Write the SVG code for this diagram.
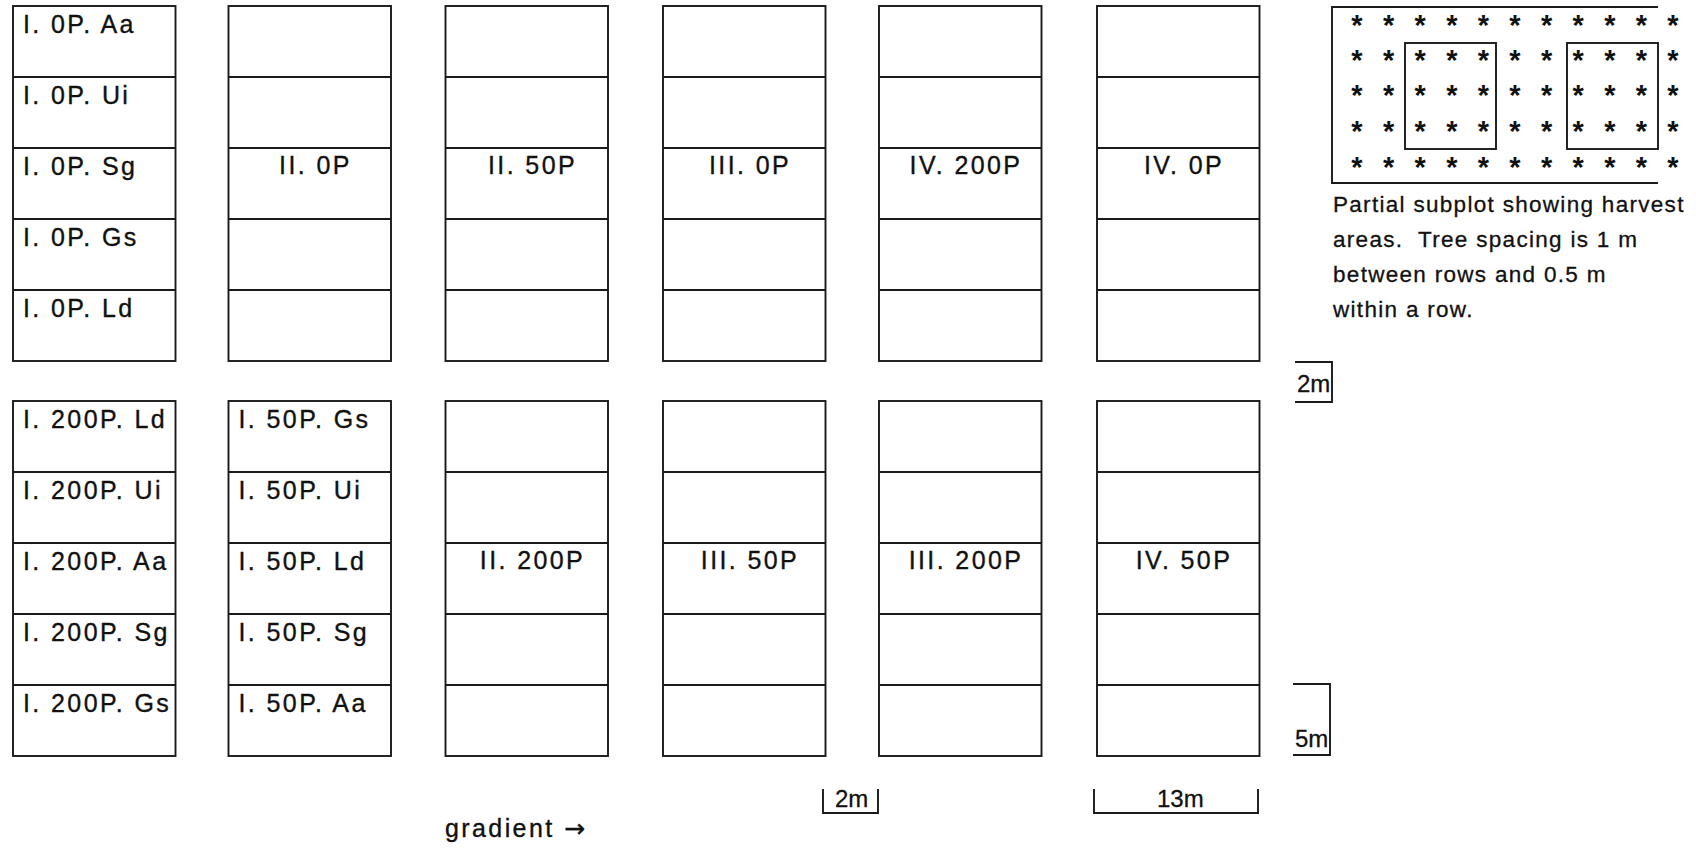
<svg xmlns="http://www.w3.org/2000/svg" width="1696" height="848" viewBox="0 0 1696 848">
<style>
  .ln{fill:none;stroke:#1a1a1a;stroke-width:1.9}
  .lab{font-family:"Liberation Sans",Arial,sans-serif;font-size:25px;letter-spacing:2.4px;fill:#111;stroke:#111;stroke-width:0.35}
  .mid{font-family:"Liberation Sans",Arial,sans-serif;font-size:25px;letter-spacing:2.4px;fill:#111;stroke:#111;stroke-width:0.35;text-anchor:middle}
  .cap{font-family:"Liberation Sans",Arial,sans-serif;font-size:22.5px;letter-spacing:1.3px;fill:#111;stroke:#111;stroke-width:0.3}
  .sc{font-family:"Liberation Sans",Arial,sans-serif;font-size:24px;fill:#111;stroke:#111;stroke-width:0.3}
  .st{font-family:"Liberation Sans",Arial,sans-serif;font-size:29px;font-weight:bold;fill:#111;text-anchor:middle}
</style>
<rect width="1696" height="848" fill="#fff"/>
<defs>
  <g id="col">
    <rect class="ln" x="0" y="0" width="162.5" height="355"/>
    <path class="ln" d="M0 71H162.5M0 142H162.5M0 213H162.5M0 284H162.5"/>
  </g>
</defs>

<!-- top section -->
<g id="plot-I-0P" transform="translate(13,6)">
  <use href="#col"/>
  <text class="lab" x="10" y="27">I. 0P. Aa</text>
  <text class="lab" x="10" y="98">I. 0P. Ui</text>
  <text class="lab" x="10" y="169">I. 0P. Sg</text>
  <text class="lab" x="10" y="240">I. 0P. Gs</text>
  <text class="lab" x="10" y="311">I. 0P. Ld</text>
</g>
<g id="plot-II-0P" transform="translate(228.5,6)">
  <use href="#col"/>
  <text class="mid" x="87" y="168">II. 0P</text>
</g>
<g id="plot-II-50P" transform="translate(445.5,6)">
  <use href="#col"/>
  <text class="mid" x="87" y="168">II. 50P</text>
</g>
<g id="plot-III-0P" transform="translate(663,6)">
  <use href="#col"/>
  <text class="mid" x="87" y="168">III. 0P</text>
</g>
<g id="plot-IV-200P" transform="translate(879,6)">
  <use href="#col"/>
  <text class="mid" x="87" y="168">IV. 200P</text>
</g>
<g id="plot-IV-0P" transform="translate(1097,6)">
  <use href="#col"/>
  <text class="mid" x="87" y="168">IV. 0P</text>
</g>

<!-- bottom section -->
<g id="plot-I-200P" transform="translate(13,401)">
  <use href="#col"/>
  <text class="lab" x="10" y="27">I. 200P. Ld</text>
  <text class="lab" x="10" y="98">I. 200P. Ui</text>
  <text class="lab" x="10" y="169">I. 200P. Aa</text>
  <text class="lab" x="10" y="240">I. 200P. Sg</text>
  <text class="lab" x="10" y="311">I. 200P. Gs</text>
</g>
<g id="plot-I-50P" transform="translate(228.5,401)">
  <use href="#col"/>
  <text class="lab" x="10" y="27">I. 50P. Gs</text>
  <text class="lab" x="10" y="98">I. 50P. Ui</text>
  <text class="lab" x="10" y="169">I. 50P. Ld</text>
  <text class="lab" x="10" y="240">I. 50P. Sg</text>
  <text class="lab" x="10" y="311">I. 50P. Aa</text>
</g>
<g id="plot-II-200P" transform="translate(445.5,401)">
  <use href="#col"/>
  <text class="mid" x="87" y="168">II. 200P</text>
</g>
<g id="plot-III-50P" transform="translate(663,401)">
  <use href="#col"/>
  <text class="mid" x="87" y="168">III. 50P</text>
</g>
<g id="plot-III-200P" transform="translate(879,401)">
  <use href="#col"/>
  <text class="mid" x="87" y="168">III. 200P</text>
</g>
<g id="plot-IV-50P" transform="translate(1097,401)">
  <use href="#col"/>
  <text class="mid" x="87" y="168">IV. 50P</text>
</g>

<!-- partial subplot inset -->
<g id="subplot">
  <path class="ln" d="M1658 7H1332V183H1658"/>
  <rect class="ln" x="1405" y="43" width="91" height="106"/>
  <rect class="ln" x="1567" y="43" width="91" height="106"/>
  <text class="st" x="1357 1388.6 1420.2 1451.8 1483.4 1515 1546.6 1578.2 1609.8 1641.4 1673" y="35">***********</text>
  <text class="st" x="1357 1388.6 1420.2 1451.8 1483.4 1515 1546.6 1578.2 1609.8 1641.4 1673" y="70">***********</text>
  <text class="st" x="1357 1388.6 1420.2 1451.8 1483.4 1515 1546.6 1578.2 1609.8 1641.4 1673" y="105">***********</text>
  <text class="st" x="1357 1388.6 1420.2 1451.8 1483.4 1515 1546.6 1578.2 1609.8 1641.4 1673" y="141">***********</text>
  <text class="st" x="1357 1388.6 1420.2 1451.8 1483.4 1515 1546.6 1578.2 1609.8 1641.4 1673" y="177">***********</text>
  <text class="cap" x="1333" y="212">Partial subplot showing harvest</text>
  <text class="cap" x="1333" y="247" xml:space="preserve">areas.  Tree spacing is 1 m</text>
  <text class="cap" x="1333" y="282">between rows and 0.5 m</text>
  <text class="cap" x="1333" y="317">within a row.</text>
</g>

<!-- scale brackets -->
<g id="connectors">
  <path class="ln" d="M1295 362H1332V402H1295"/>
  <path class="ln" d="M1293 684H1330V755H1293"/>
  <path class="ln" d="M823 789V813H878V789"/>
  <path class="ln" d="M1094 789V813H1258V789"/>
</g>
<g id="scale-labels">
  <text class="sc" x="1297" y="392">2m</text>
  <text class="sc" x="1295" y="747">5m</text>
  <text class="sc" x="835" y="807">2m</text>
  <text class="sc" x="1157" y="807">13m</text>
</g>
<g id="gradient-label">
  <text class="lab" x="445" y="837" letter-spacing="1.8">gradient <tspan font-family="'DejaVu Sans',sans-serif" letter-spacing="0">→</tspan></text>
</g>
</svg>
